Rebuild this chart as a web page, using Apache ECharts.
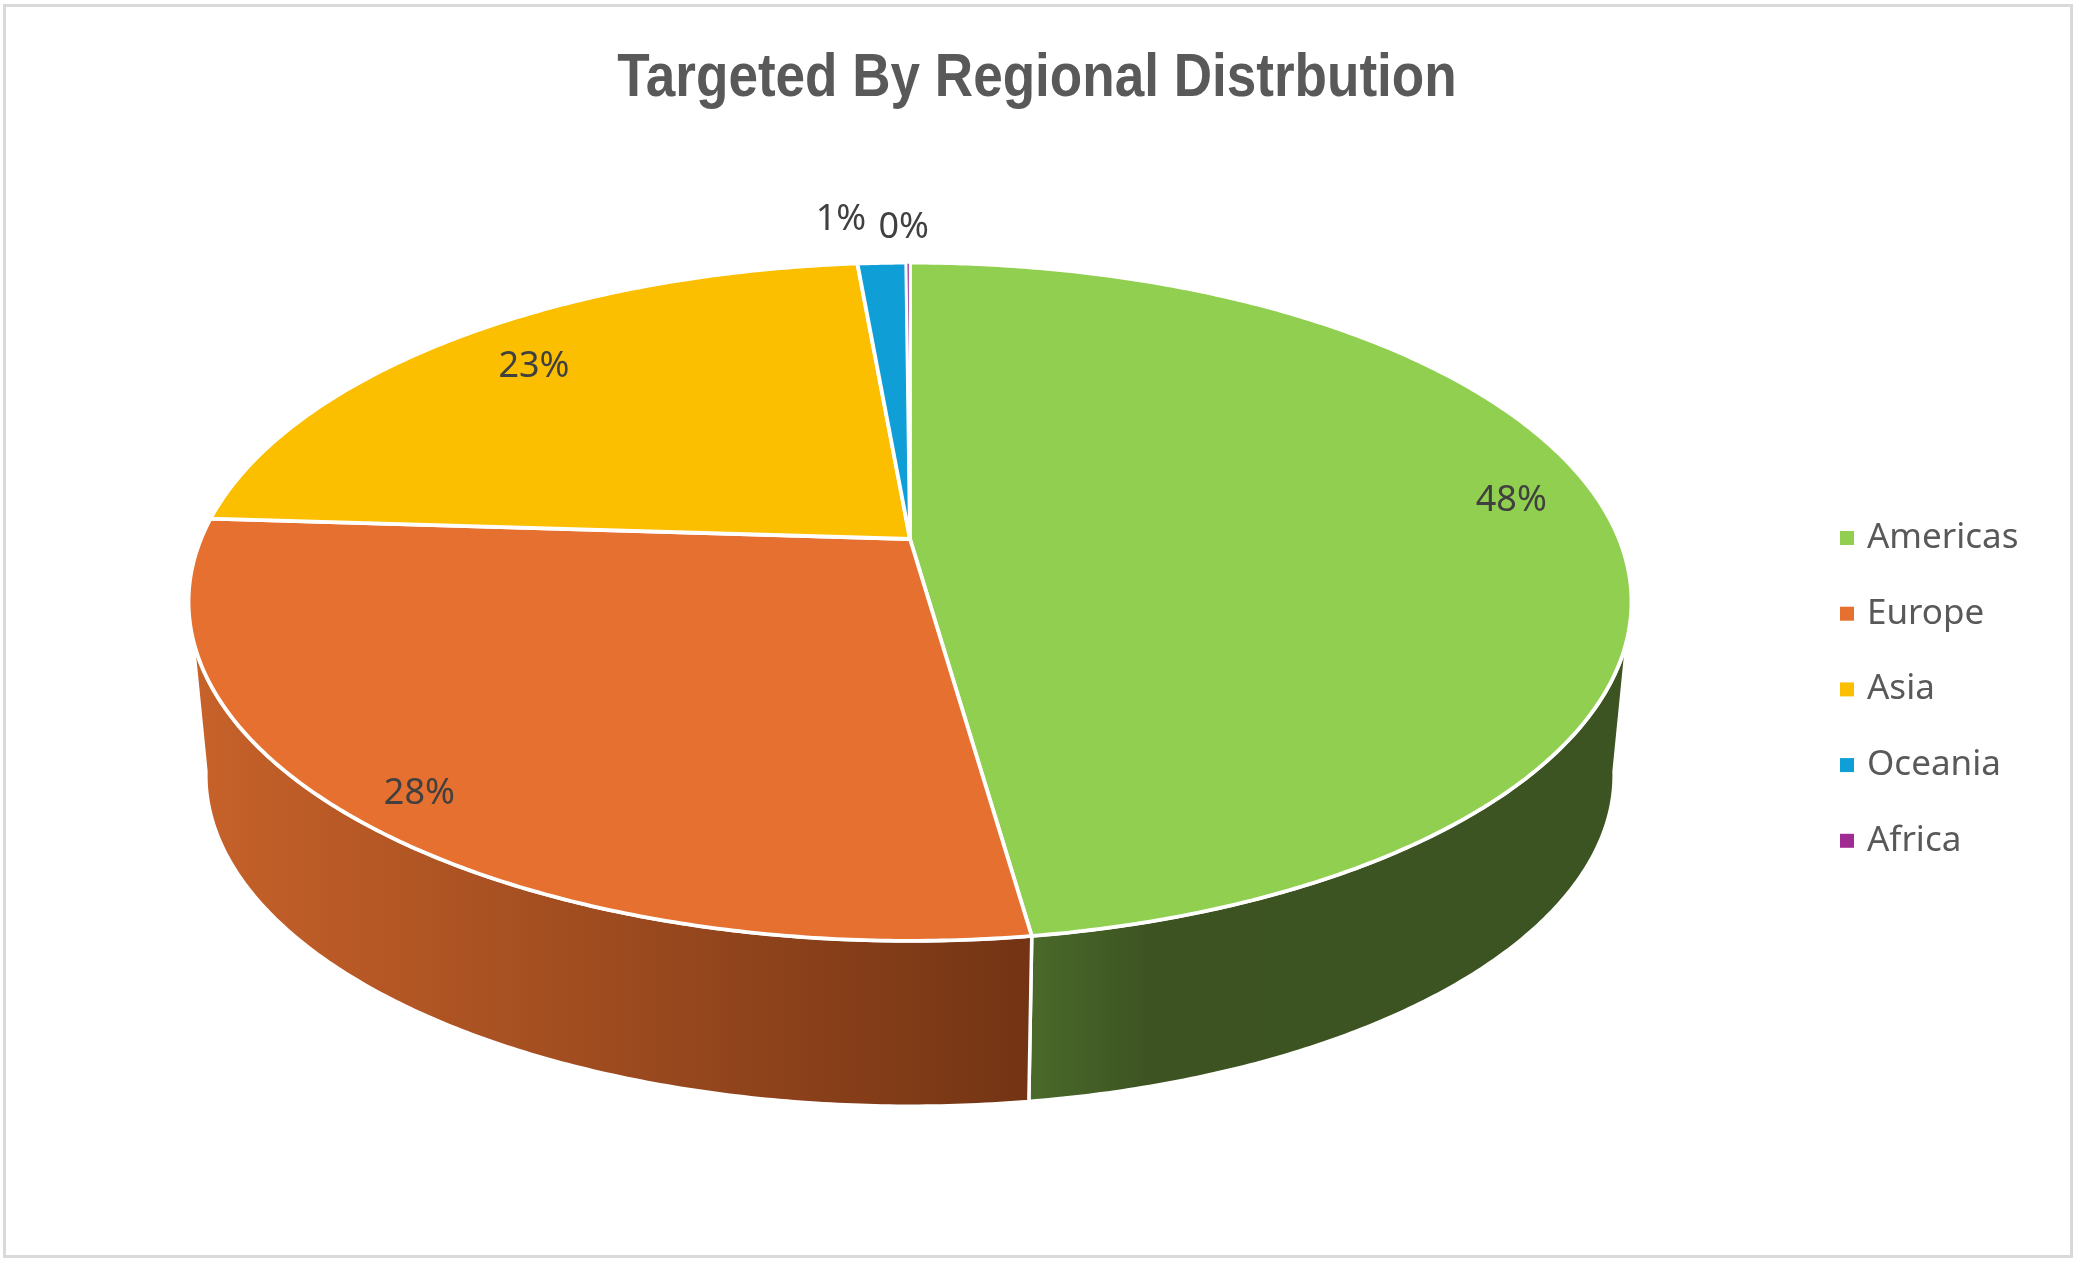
<!DOCTYPE html>
<html>
<head>
<meta charset="utf-8">
<style>html,body{margin:0;padding:0;background:#fff}#c{width:2080px;height:1264px}</style>
<script src="https://cdn.jsdelivr.net/npm/echarts@6/dist/echarts.min.js"></script>
</head>
<body>
<div id="c"></div>
<script>
// Data
const regions = ['Americas', 'Europe', 'Asia', 'Oceania', 'Africa'];
const shares = [47.76, 28.24, 22.6, 1.3, 0.1];
const chartTitle = 'Targeted By Regional Distrbution';

// Style
const topColors = ['#91CF50', '#E6702F', '#FBBF00', '#0F9ED5', '#A02B93'];
const sideStops = [
  [[0, '#4A6A2A'], [0.2, '#3D5422'], [1, '#3C5322']],
  [[0, '#C8622A'], [1, '#733414']],
  [[0, '#8A6A00'], [1, '#8A6A00']],
  [[0, '#0A5F80'], [1, '#0A5F80']],
  [[0, '#601A58'], [1, '#601A58']]
];
// Label placement: radial factor and angular nudge from each slice's middle
const labelRadius = [0.875, 0.91, 0.826, 1.196, 1.155];
const labelNudge = [-3.8, -1.1, 0.4, -3.0, -0.35];

// Perspective projection of the disc
const view = { x: 910, y: 539, a: 709, b: 327.5, k: 0.185, depthY: 175, depthScale: 0.976 };
const frontArc = [100, 260];
const total = shares.reduce((s, v) => s + v, 0);

function project(deg, r, bottom) {
  const t = deg * Math.PI / 180;
  const u = r * Math.sin(t), v = r * Math.cos(t);
  const w = 1 + view.k * v;
  const s = bottom ? view.depthScale : 1;
  const y0 = view.y + (bottom ? view.depthY : 0);
  return [view.x + s * view.a * u / w, y0 - s * view.b * v / w];
}
function arc(from, to, bottom) {
  const pts = [], n = Math.max(1, Math.ceil(Math.abs(to - from) / 0.5));
  for (let i = 0; i <= n; i++) pts.push(project(from + (to - from) * i / n, 1, bottom));
  return pts;
}

function makeRender(idx) {
  return function (params, api) {
    const val = api.value(0);
    let before = 0;
    for (let i = 0; i < idx; i++) before += shares[i];
    const a0 = before / total * 360, a1 = (before + val) / total * 360;
    const children = [];
    const s0 = Math.max(a0, frontArc[0]), s1 = Math.min(a1, frontArc[1]);
    if (s1 > s0) {
      children.push({
        type: 'polygon', z2: 1,
        shape: { points: arc(s0, s1, false).concat(arc(s0, s1, true).reverse()) },
        style: {
          fill: { type: 'linear', x: 0, y: 0, x2: 1, y2: 0, global: false,
                  colorStops: sideStops[idx].map(s => ({ offset: s[0], color: s[1] })) },
          stroke: '#fff', lineWidth: 3.5, lineJoin: 'round'
        }
      });
    }
    children.push({
      type: 'polygon', z2: 10,
      shape: { points: [project(0, 0, false)].concat(arc(a0, a1, false)) },
      style: { fill: topColors[idx], stroke: '#fff', lineWidth: val < 0.5 ? 2.4 : 3.8, lineJoin: 'round' }
    });
    const lp = project((a0 + a1) / 2 + labelNudge[idx], labelRadius[idx], false);
    children.push({
      type: 'text', z2: 20, x: lp[0], y: lp[1],
      style: {
        text: Math.round(val / total * 100) + '%',
        fill: '#404040', font: '36px "Noto Sans", sans-serif',
        align: 'center', verticalAlign: 'middle'
      }
    });
    return { type: 'group', children };
  };
}

const chart = echarts.init(document.getElementById('c'), null, { renderer: 'canvas' });
chart.setOption({
  animation: false,
  backgroundColor: '#fff',
  legend: {
    orient: 'vertical', left: 1835, top: 515,
    itemWidth: 14, itemHeight: 14, itemGap: 39.7, icon: 'rect',
    textStyle: { color: '#595959', fontSize: 35, lineHeight: 36, fontFamily: '"Noto Sans", sans-serif', padding: [0, 0, 0, 8] },
    data: regions
  },
  graphic: [{
    type: 'rect', silent: true, z: -1,
    shape: { x: 4.5, y: 5.5, width: 2067, height: 1251 },
    style: { fill: '#fff', stroke: '#D9D9D9', lineWidth: 3 }
  }, {
    type: 'text', silent: true, z: 5,
    x: 1037, y: 79, scaleX: 0.87, scaleY: 1,
    style: {
      text: chartTitle, fill: '#595959', align: 'center', verticalAlign: 'middle',
      font: 'bold 61px "Liberation Sans", sans-serif'
    }
  }],
  series: regions.map((name, i) => ({
    type: 'custom', name, coordinateSystem: 'none', silent: true,
    itemStyle: { color: topColors[i] },
    renderItem: makeRender(i),
    data: [[shares[i]]]
  }))
});
</script>
</body>
</html>
